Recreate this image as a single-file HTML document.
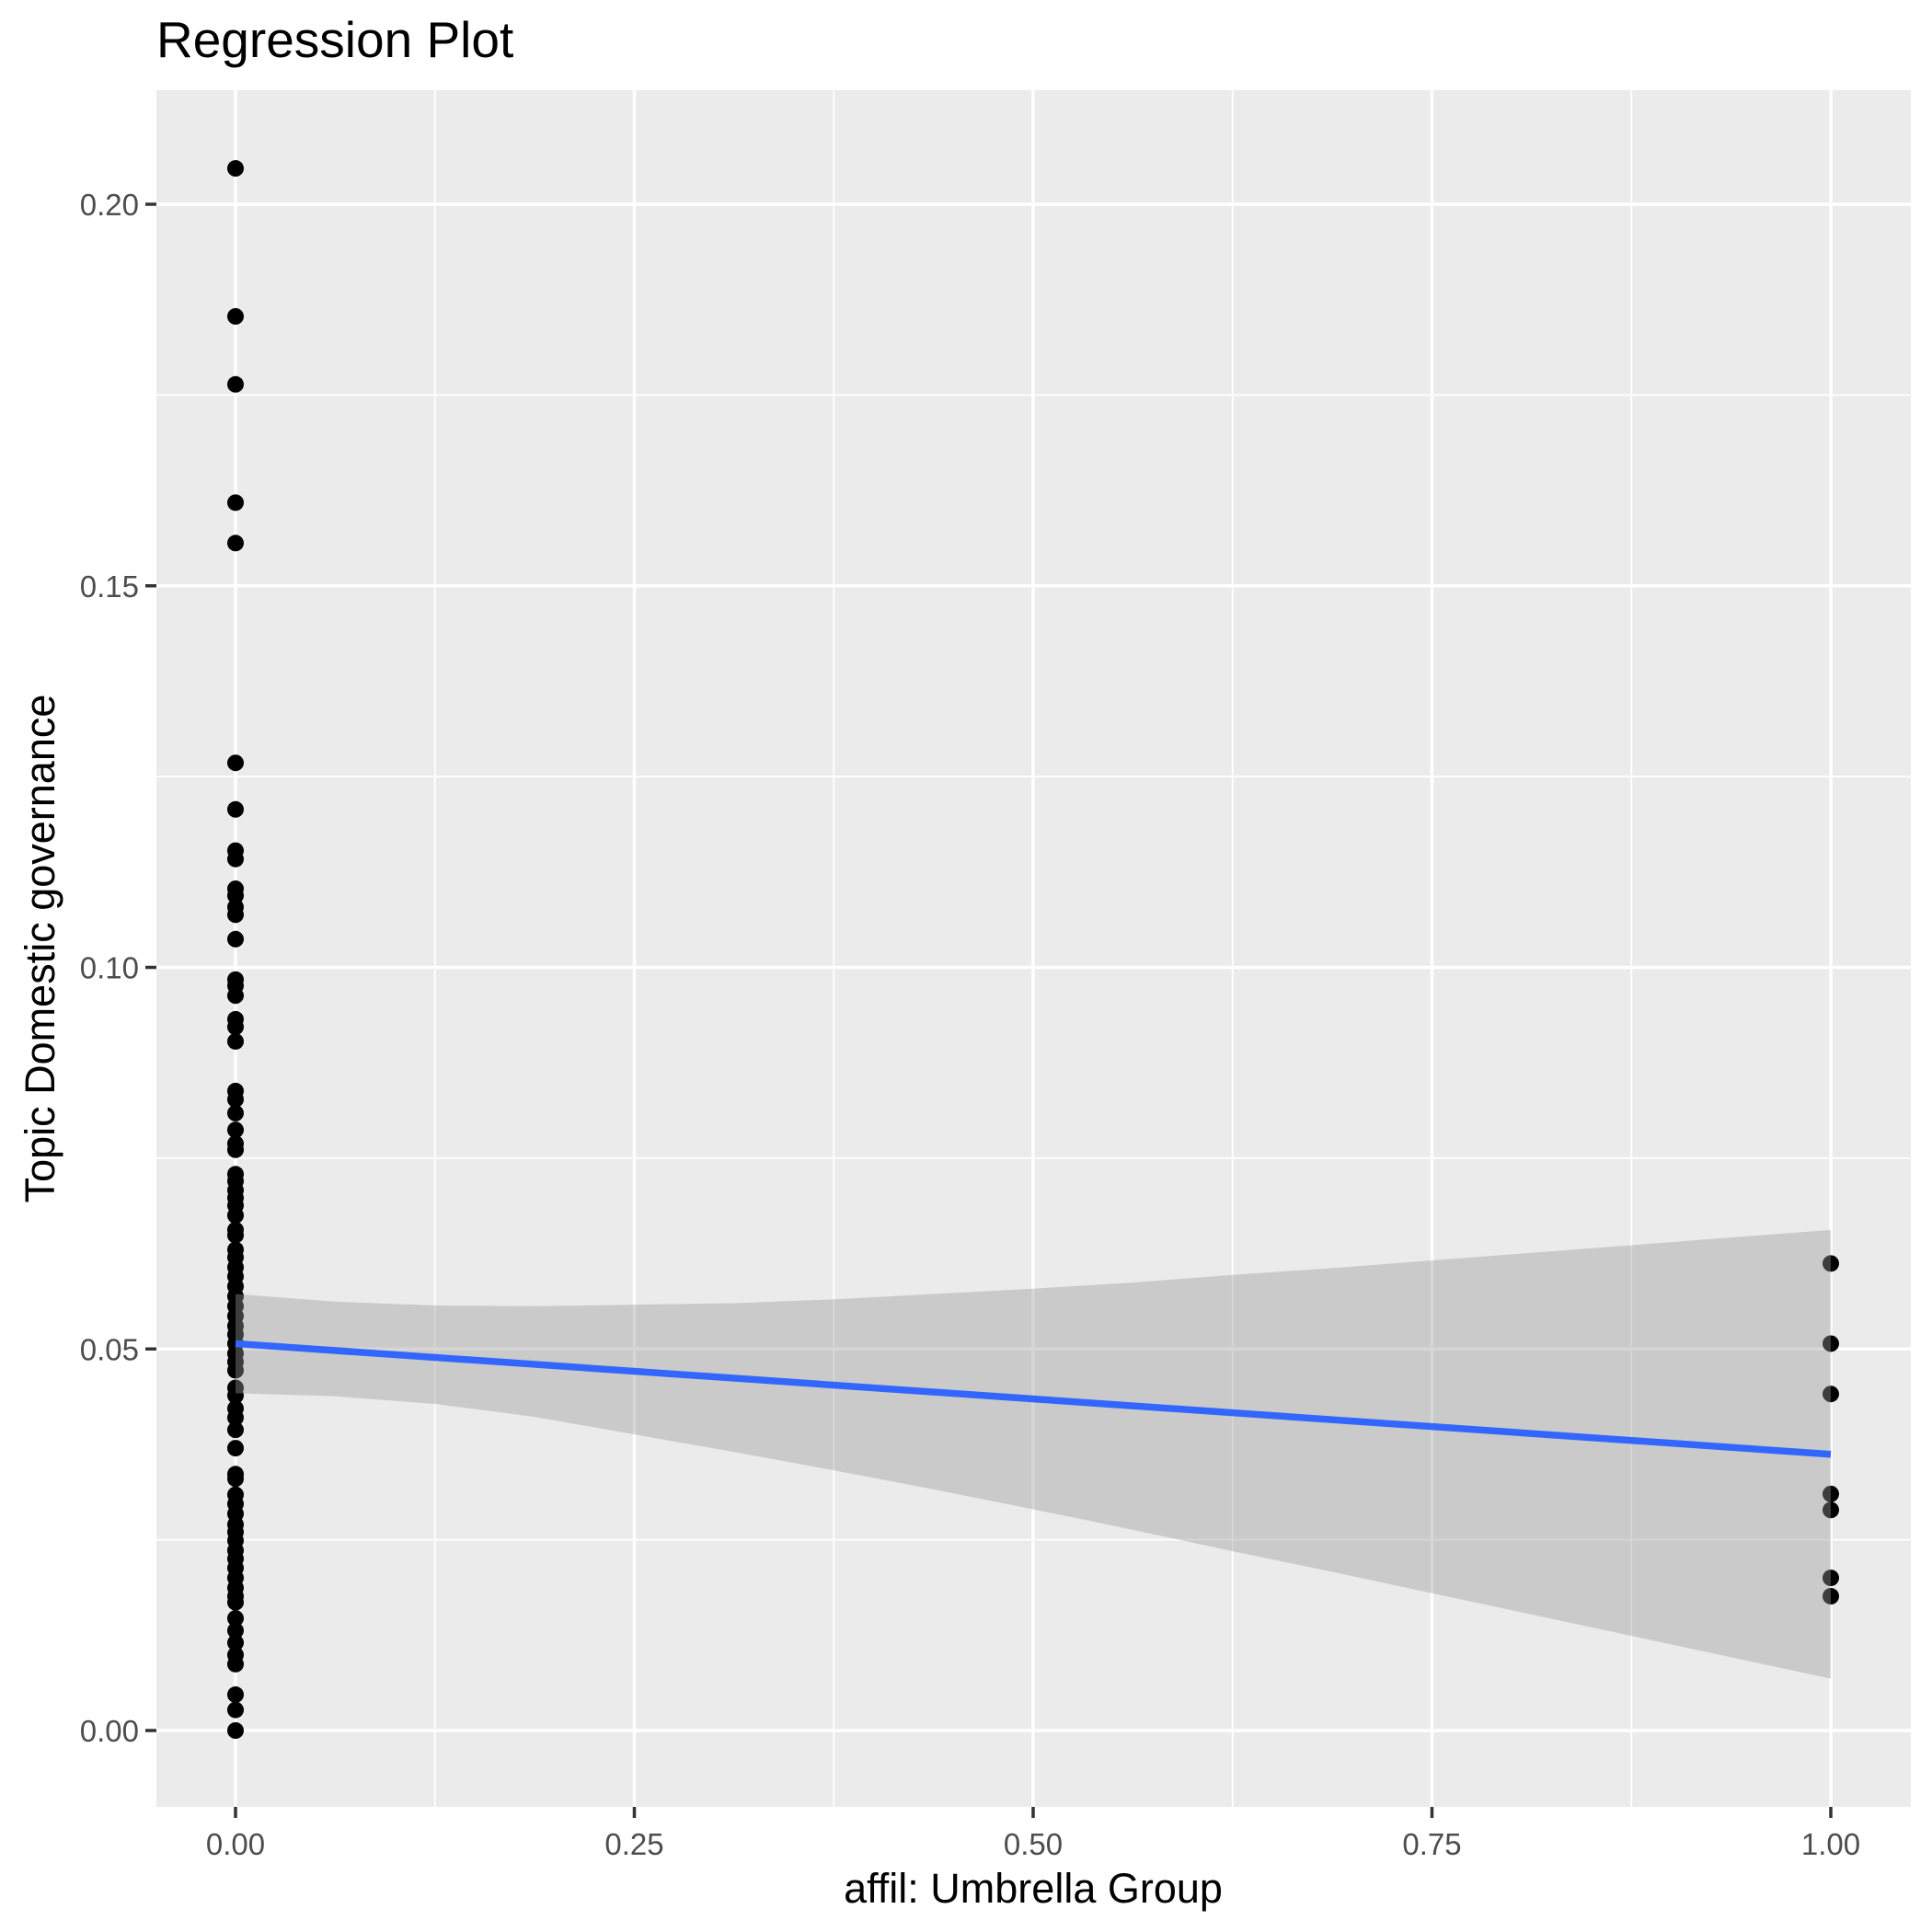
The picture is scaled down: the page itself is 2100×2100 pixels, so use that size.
<!DOCTYPE html>
<html><head><meta charset="utf-8"><style>
html,body{margin:0;padding:0;background:#fff;}
svg{display:block;font-family:"Liberation Sans",Arial,sans-serif;}
</style></head><body>
<svg id="chart" width="2100" height="2100" viewBox="0 0 2100 2100" xmlns="http://www.w3.org/2000/svg">
<rect width="2100" height="2100" fill="#fff"/>
<text x="170" y="62" font-size="55" fill="#000">Regression Plot</text>
<rect id="panel" x="170" y="98" width="1907" height="1866" fill="#ebebeb"/>
<g id="grid"></g>
<g id="points"></g>
<g id="smooth"></g>
<g id="axes"></g>
<text x="1123" y="2068" font-size="45" text-anchor="middle" fill="#000">affil: Umbrella Group</text>
<text transform="translate(59,1031) rotate(-90)" font-size="45" text-anchor="middle" fill="#000">Topic Domestic governance</text>
</svg>
<script>
const xTicks = [0, 0.25, 0.5, 0.75, 1];
const xTickLabels = ["0.00", "0.25", "0.50", "0.75", "1.00"];
const yTicks = [0, 0.05, 0.1, 0.15, 0.2];
const yTickLabels = ["0.00", "0.05", "0.10", "0.15", "0.20"];
const groupZeroValues = [0.2047,0.1853,0.1764,0.1609,0.1556,0.1268,0.1207,0.1153,0.1142,0.1103,0.1094,0.1079,0.1069,0.1037,0.0984,0.0976,0.0963,0.0932,0.0922,0.0903,0.0838,0.0827,0.0809,0.0787,0.0769,0.0761,0.0729,0.0720,0.0708,0.0698,0.0688,0.0675,0.0656,0.0649,0.0630,0.0620,0.0607,0.0595,0.0582,0.0569,0.0556,0.0543,0.0530,0.0519,0.0507,0.0494,0.0483,0.0472,0.0449,0.0439,0.0422,0.0410,0.0394,0.0370,0.0336,0.0330,0.0309,0.0297,0.0284,0.0270,0.0260,0.0249,0.0236,0.0225,0.0213,0.0200,0.0187,0.0176,0.0168,0.0147,0.0131,0.0115,0.0099,0.0087,0.0047,0.0027,0.0000];
const groupOneValues = [0.0612,0.0507,0.0441,0.0310,0.0289,0.0200,0.0176];
const fitX = [0, 1];
const fitY = [0.0507, 0.0362];
const bandX = [0,0.0625,0.125,0.1875,0.25,0.3125,0.375,0.4375,0.5,0.5625,0.625,0.6875,0.75,0.8125,0.875,0.9375,1];
const bandHigh = [0.0572,0.0562,0.0557,0.0556,0.0558,0.0560,0.0565,0.0572,0.0579,0.0587,0.0597,0.0606,0.0616,0.0626,0.0636,0.0646,0.0656];
const bandLow = [0.0442,0.0438,0.0428,0.0411,0.0388,0.0365,0.0341,0.0316,0.0290,0.0263,0.0235,0.0208,0.0180,0.0152,0.0124,0.0096,0.0068];

const NS = "http://www.w3.org/2000/svg";
const px0 = 256, px1 = 1990, py0 = 1881, py20 = 222;
function sx(v){ return px0 + v*(px1-px0); }
function sy(v){ return py0 - v/0.2*(py0-py20); }
function mk(tag, attrs, parent){ const e=document.createElementNS(NS,tag); for(const k in attrs) e.setAttribute(k,attrs[k]); parent.appendChild(e); return e; }

const grid = document.getElementById('grid');
for (let i=0;i<xTicks.length-1;i++){
  const m=(xTicks[i]+xTicks[i+1])/2;
  const l=mk('line',{x1:sx(m),x2:sx(m),y1:98,y2:1964,stroke:'#fff','stroke-width':1.8},grid);
  
  
}
for (let i=0;i<yTicks.length-1;i++){
  const m=(yTicks[i]+yTicks[i+1])/2;
  const l=mk('line',{x1:170,x2:2077,y1:sy(m),y2:sy(m),stroke:'#fff','stroke-width':1.8},grid);
  
  
}
xTicks.forEach(v=>{
  const l=mk('line',{x1:sx(v),x2:sx(v),y1:98,y2:1964,stroke:'#fff','stroke-width':3.5},grid);
  
  
});
yTicks.forEach(v=>{
  const l=mk('line',{x1:170,x2:2077,y1:sy(v),y2:sy(v),stroke:'#fff','stroke-width':3.5},grid);
  
  
});

const pts = document.getElementById('points');
groupZeroValues.forEach(v=>{
  const c=mk('circle',{cx:sx(0),cy:sy(v),r:9,fill:'#000'},pts);
  
  
});
groupOneValues.forEach(v=>{
  const c=mk('circle',{cx:sx(1),cy:sy(v),r:9,fill:'#000'},pts);
  
  
});

const sm = document.getElementById('smooth');
let d='';
bandX.forEach((x,i)=>{ d += (i?'L':'M')+sx(x)+','+sy(bandHigh[i]); });
for (let i=bandX.length-1;i>=0;i--) d += 'L'+sx(bandX[i])+','+sy(bandLow[i]);
d+='Z';
const band=mk('path',{d:d,fill:'#999999','fill-opacity':0.4},sm);


const fl=mk('line',{x1:sx(fitX[0]),y1:sy(fitY[0]),x2:sx(fitX[1]),y2:sy(fitY[1]),stroke:'#3366ff','stroke-width':7.5},sm);



const ax = document.getElementById('axes');
xTicks.forEach((v,i)=>{
  const t=mk('line',{x1:sx(v),x2:sx(v),y1:1964,y2:1976,stroke:'#333','stroke-width':3.5},ax);
  
  
  const tx=mk('text',{x:sx(v),y:2016,'font-size':33,'text-anchor':'middle',fill:'#4d4d4d'},ax);
  tx.textContent=xTickLabels[i];
  
  
});
yTicks.forEach((v,i)=>{
  const t=mk('line',{x1:158,x2:170,y1:sy(v),y2:sy(v),stroke:'#333','stroke-width':3.5},ax);
  
  
  const tx=mk('text',{x:151,y:sy(v)+12,'font-size':33,'text-anchor':'end',fill:'#4d4d4d'},ax);
  tx.textContent=yTickLabels[i];
  
  
});
</script>
</body></html>
